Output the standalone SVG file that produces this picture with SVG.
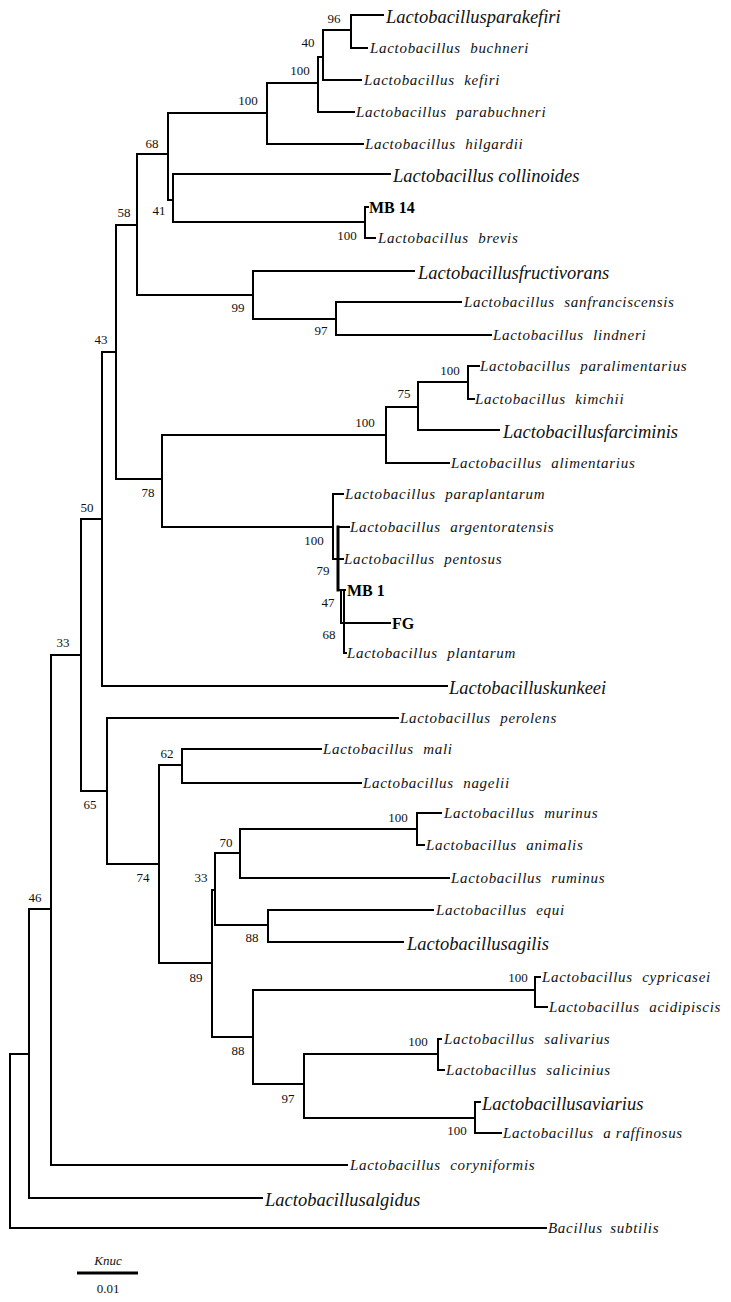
<svg xmlns="http://www.w3.org/2000/svg" width="731" height="1302" viewBox="0 0 731 1302">
<style>
.e{fill:none;stroke:#000;stroke-width:2;stroke-linecap:square}
.sp{font-family:"Liberation Serif","Times New Roman",serif;font-style:italic;font-size:15px;letter-spacing:0.7px;fill:#111}
.lg{font-family:"Liberation Serif","Times New Roman",serif;font-style:italic;font-size:18.5px;fill:#111}
.b{font-family:"Liberation Serif","Times New Roman",serif;font-weight:bold;font-size:16px;fill:#000}
.bs{font-family:"Liberation Serif","Times New Roman",serif;font-size:13px;fill:#111;text-anchor:middle}
</style>
<rect width="731" height="1302" fill="#fff"/>
<g id="connectors">
<path class="e" d="M10,1054 V1228 H546"/>
<path class="e" d="M10,1054 H29"/>
<path class="e" d="M29,909 V1198 H262"/>
<path class="e" d="M29,909 H51"/>
<path class="e" d="M51,655 V1165 H347"/>
<path class="e" d="M51,655 H81"/>
<path class="e" d="M81,519 V791 H107"/>
<path class="e" d="M81,519 H102"/>
<path class="e" d="M102,352 V686 H447"/>
<path class="e" d="M102,352 H116"/>
<path class="e" d="M116,225 V479 H162"/>
<path class="e" d="M116,225 H137"/>
<path class="e" d="M137,154 V295 H253"/>
<path class="e" d="M137,154 H168"/>
<path class="e" d="M168,113 V200 H173"/>
<path class="e" d="M168,113 H267"/>
<path class="e" d="M267,83 V144 H363"/>
<path class="e" d="M267,83 H318"/>
<path class="e" d="M318,57 V112 H354"/>
<path class="e" d="M318,57 H323"/>
<path class="e" d="M323,30 V80 H361"/>
<path class="e" d="M323,30 H351"/>
<path class="e" d="M351,15 V48 H367"/>
<path class="e" d="M351,15 H383"/>
<path class="e" d="M173,174 V222 H365"/>
<path class="e" d="M173,174 H390"/>
<path class="e" d="M365,207 V238 H375"/>
<path class="e" d="M365,207 H368"/>
<path class="e" d="M253,271 V319 H336"/>
<path class="e" d="M253,271 H414"/>
<path class="e" d="M336,302 V335 H491"/>
<path class="e" d="M336,302 H461"/>
<path class="e" d="M162,435 V527 H333"/>
<path class="e" d="M162,435 H386"/>
<path class="e" d="M386,407 V463 H449"/>
<path class="e" d="M386,407 H418"/>
<path class="e" d="M418,382 V430 H499"/>
<path class="e" d="M418,382 H468"/>
<path class="e" d="M468,366 V399 H474"/>
<path class="e" d="M468,366 H479"/>
<path class="e" d="M333,494 V559 H343"/>
<path class="e" d="M333,494 H343"/>
<path class="e" d="M338,527 V590" style="stroke-width:3"/>
<path class="e" d="M338,527 H349"/>
<path class="e" d="M338,590 H345"/>
<path class="e" d="M341,590 V623 H390"/>
<path class="e" d="M344,590 V653 H346"/>
<path class="e" d="M107,718 V864 H159"/>
<path class="e" d="M107,718 H398"/>
<path class="e" d="M159,765 V963 H212"/>
<path class="e" d="M159,765 H182"/>
<path class="e" d="M182,749 V783 H361"/>
<path class="e" d="M182,749 H321"/>
<path class="e" d="M212,890 V1037 H253"/>
<path class="e" d="M212,890 H215"/>
<path class="e" d="M215,853 V925 H268"/>
<path class="e" d="M215,853 H240"/>
<path class="e" d="M240,829 V878 H449"/>
<path class="e" d="M240,829 H417"/>
<path class="e" d="M417,813 V845 H424"/>
<path class="e" d="M417,813 H441"/>
<path class="e" d="M268,910 V942 H403"/>
<path class="e" d="M268,910 H433"/>
<path class="e" d="M253,990 V1084 H304"/>
<path class="e" d="M253,990 H535"/>
<path class="e" d="M535,977 V1007 H547"/>
<path class="e" d="M535,977 H540"/>
<path class="e" d="M304,1054 V1118 H475"/>
<path class="e" d="M304,1054 H438"/>
<path class="e" d="M438,1039 V1070 H444"/>
<path class="e" d="M438,1039 H441"/>
<path class="e" d="M475,1102 V1133 H501"/>
<path class="e" d="M475,1102 H480"/>
</g>
<g id="leaves">
<g id="parakefiri"><text class="lg" x="386" y="23">Lactobacillusparakefiri</text></g>
<g id="buchneri"><text class="sp" x="370" y="53">Lactobacillus <tspan dx="5">buchneri</tspan></text></g>
<g id="kefiri"><text class="sp" x="364" y="85">Lactobacillus <tspan dx="5">kefiri</tspan></text></g>
<g id="parabuchneri"><text class="sp" x="356" y="117">Lactobacillus <tspan dx="5">parabuchneri</tspan></text></g>
<g id="hilgardii"><text class="sp" x="365" y="149">Lactobacillus <tspan dx="5">hilgardii</tspan></text></g>
<g id="collinoides"><text class="lg" x="393" y="182">Lactobacillus collinoides</text></g>
<g id="mb14"><text class="b" x="369" y="213">MB 14</text></g>
<g id="brevis"><text class="sp" x="378" y="243">Lactobacillus <tspan dx="5">brevis</tspan></text></g>
<g id="fructivorans"><text class="lg" x="418" y="279">Lactobacillusfructivorans</text></g>
<g id="sanfranciscensis"><text class="sp" x="464" y="307">Lactobacillus <tspan dx="5">sanfranciscensis</tspan></text></g>
<g id="lindneri"><text class="sp" x="493" y="340">Lactobacillus <tspan dx="5">lindneri</tspan></text></g>
<g id="paralimentarius"><text class="sp" x="480" y="371">Lactobacillus <tspan dx="5">paralimentarius</tspan></text></g>
<g id="kimchii"><text class="sp" x="475" y="404">Lactobacillus <tspan dx="5">kimchii</tspan></text></g>
<g id="farciminis"><text class="lg" x="503" y="438">Lactobacillusfarciminis</text></g>
<g id="alimentarius"><text class="sp" x="451" y="468">Lactobacillus <tspan dx="5">alimentarius</tspan></text></g>
<g id="paraplantarum"><text class="sp" x="345" y="499">Lactobacillus <tspan dx="5">paraplantarum</tspan></text></g>
<g id="argentoratensis"><text class="sp" x="350" y="532">Lactobacillus <tspan dx="5">argentoratensis</tspan></text></g>
<g id="pentosus"><text class="sp" x="344" y="564">Lactobacillus <tspan dx="5">pentosus</tspan></text></g>
<g id="mb1"><text class="b" x="347" y="596">MB 1</text></g>
<g id="fg"><text class="b" x="392" y="629">FG</text></g>
<g id="plantarum"><text class="sp" x="347" y="658">Lactobacillus <tspan dx="5">plantarum</tspan></text></g>
<g id="kunkeei"><text class="lg" x="449" y="694">Lactobacilluskunkeei</text></g>
<g id="perolens"><text class="sp" x="400" y="723">Lactobacillus <tspan dx="5">perolens</tspan></text></g>
<g id="mali"><text class="sp" x="323" y="754">Lactobacillus <tspan dx="5">mali</tspan></text></g>
<g id="nagelii"><text class="sp" x="363" y="788">Lactobacillus <tspan dx="5">nagelii</tspan></text></g>
<g id="murinus"><text class="sp" x="444" y="818">Lactobacillus <tspan dx="5">murinus</tspan></text></g>
<g id="animalis"><text class="sp" x="426" y="850">Lactobacillus <tspan dx="5">animalis</tspan></text></g>
<g id="ruminus"><text class="sp" x="451" y="883">Lactobacillus <tspan dx="5">ruminus</tspan></text></g>
<g id="equi"><text class="sp" x="436" y="915">Lactobacillus <tspan dx="5">equi</tspan></text></g>
<g id="agilis"><text class="lg" x="407" y="950">Lactobacillusagilis</text></g>
<g id="cypricasei"><text class="sp" x="542" y="982">Lactobacillus <tspan dx="5">cypricasei</tspan></text></g>
<g id="acidipiscis"><text class="sp" x="549" y="1012">Lactobacillus <tspan dx="5">acidipiscis</tspan></text></g>
<g id="salivarius"><text class="sp" x="444" y="1044">Lactobacillus <tspan dx="5">salivarius</tspan></text></g>
<g id="salicinius"><text class="sp" x="446" y="1075">Lactobacillus <tspan dx="5">salicinius</tspan></text></g>
<g id="aviarius"><text class="lg" x="482" y="1110">Lactobacillusaviarius</text></g>
<g id="araffinosus"><text class="sp" x="503" y="1138">Lactobacillus <tspan dx="5">a raffinosus</tspan></text></g>
<g id="coryniformis"><text class="sp" x="350" y="1170">Lactobacillus <tspan dx="5">coryniformis</tspan></text></g>
<g id="algidus"><text class="lg" x="265" y="1206">Lactobacillusalgidus</text></g>
<g id="subtilis"><text class="sp" x="548" y="1233">Bacillus <tspan dx="3">subtilis</tspan></text></g>
</g>
<g id="internal-nodes">
<g id="n96"><text class="bs" x="334" y="23">96</text></g>
<g id="n40"><text class="bs" x="308" y="47">40</text></g>
<g id="n100a"><text class="bs" x="300" y="75">100</text></g>
<g id="n100b"><text class="bs" x="248" y="105">100</text></g>
<g id="n68a"><text class="bs" x="152" y="148">68</text></g>
<g id="n41"><text class="bs" x="159" y="215">41</text></g>
<g id="n58"><text class="bs" x="124" y="217">58</text></g>
<g id="n100c"><text class="bs" x="347" y="240">100</text></g>
<g id="n99"><text class="bs" x="238" y="312">99</text></g>
<g id="n97a"><text class="bs" x="321" y="335">97</text></g>
<g id="n43"><text class="bs" x="101" y="344">43</text></g>
<g id="n100d"><text class="bs" x="450" y="375">100</text></g>
<g id="n75"><text class="bs" x="404" y="398">75</text></g>
<g id="n100e"><text class="bs" x="365" y="427">100</text></g>
<g id="n78"><text class="bs" x="148" y="497">78</text></g>
<g id="n50"><text class="bs" x="87" y="512">50</text></g>
<g id="n100f"><text class="bs" x="314" y="545">100</text></g>
<g id="n79"><text class="bs" x="323" y="575">79</text></g>
<g id="n47"><text class="bs" x="328" y="607">47</text></g>
<g id="n68b"><text class="bs" x="329" y="639">68</text></g>
<g id="n33a"><text class="bs" x="63" y="647">33</text></g>
<g id="n62"><text class="bs" x="167" y="758">62</text></g>
<g id="n65"><text class="bs" x="90" y="809">65</text></g>
<g id="n100g"><text class="bs" x="398" y="822">100</text></g>
<g id="n70"><text class="bs" x="226" y="847">70</text></g>
<g id="n74"><text class="bs" x="143" y="882">74</text></g>
<g id="n33b"><text class="bs" x="201" y="882">33</text></g>
<g id="n46"><text class="bs" x="35" y="902">46</text></g>
<g id="n88a"><text class="bs" x="252" y="942">88</text></g>
<g id="n89"><text class="bs" x="196" y="982">89</text></g>
<g id="n100h"><text class="bs" x="518" y="982">100</text></g>
<g id="n100i"><text class="bs" x="418" y="1046">100</text></g>
<g id="n88b"><text class="bs" x="238" y="1055">88</text></g>
<g id="n97b"><text class="bs" x="288" y="1103">97</text></g>
<g id="n100j"><text class="bs" x="457" y="1135">100</text></g>
</g>
<g id="scale-bar">
<text class="bs" x="108" y="1265" style="font-style:italic">Knuc</text>
<path d="M77,1273 H138" stroke="#000" stroke-width="3"/>
<text class="bs" x="108" y="1293">0.01</text>
</g>
</svg>
